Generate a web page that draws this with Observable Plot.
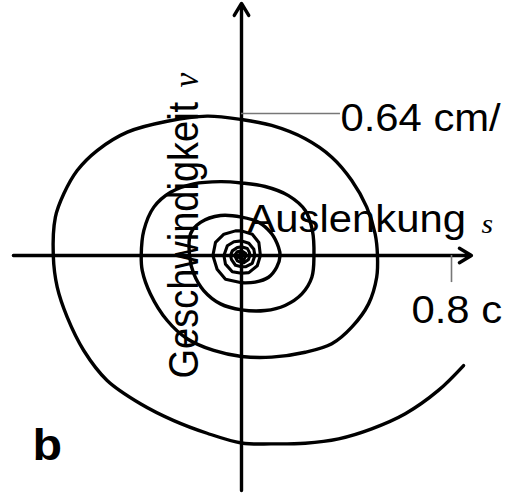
<!DOCTYPE html>
<html>
<head>
<meta charset="utf-8">
<script src="https://cdn.jsdelivr.net/npm/d3@7"></script>
<script src="https://cdn.jsdelivr.net/npm/@observablehq/plot@0.6"></script>
<style>
  html, body { margin: 0; padding: 0; background: #fff; overflow: hidden; }
  svg { display: block; overflow: hidden; }
</style>
</head>
<body>
<script>
// Phase-space trajectory of a damped oscillation: displacement s (cm) vs velocity v (cm/s)
const spiralS = [
  0.846, 0.750, 0.624, 0.496, 0.370, 0.243, 0.115, 0,
  -0.131, -0.258, -0.385, -0.512, -0.601, -0.664, -0.702, -0.717,
  -0.709, -0.677, -0.626, -0.550, -0.435, -0.283, -0.131, 0,
  0.115, 0.243, 0.344, 0.420, 0.477, 0.509, 0.518,
  0.515, 0.484, 0.420, 0.344, 0.243, 0.115, 0,
  -0.106, -0.207, -0.283, -0.347, -0.378, -0.382,
  -0.372, -0.334, -0.270, -0.182, -0.080, 0,
  0.090, 0.179, 0.243, 0.270, 0.276,
  0.268, 0.230, 0.166, 0.090, 0,
  -0.080, -0.144, -0.182, -0.198,
  -0.194, -0.156, -0.080, 0,
  0.065, 0.115, 0.141, 0.147,
  0.134, 0.103, 0.052, 0,
  -0.061, -0.093, -0.109, -0.099, -0.067, -0.023, 0,
  0.041, 0.066, 0.072, 0.060, 0.028, 0,
  -0.035, -0.061, -0.067, -0.054, -0.029, 0,
  0.028, 0.047, 0.051, 0.041, 0.015, 0,
  -0.023, -0.038, -0.042, -0.035, -0.016, 0,
  0.022, 0.030, 0.032, 0.026, 0.009, 0,
  -0.016, -0.026, -0.016, 0,
  0.015, 0.018, 0.009, 0,
  -0.010, -0.011, -0.004, 0.004, 0
];
const spiralV = [
  -0.496, -0.608, -0.713, -0.781, -0.826, -0.846, -0.849, -0.845,
  -0.801, -0.744, -0.668, -0.563, -0.428, -0.278, -0.143, 0,
  0.173, 0.278, 0.383, 0.473, 0.556, 0.605, 0.628, 0.613,
  0.586, 0.526, 0.443, 0.338, 0.218, 0.098, 0,
  -0.098, -0.218, -0.323, -0.398, -0.436, -0.458, -0.455,
  -0.428, -0.375, -0.293, -0.173, -0.068, 0,
  0.113, 0.218, 0.285, 0.323, 0.333, 0.327,
  0.311, 0.270, 0.203, 0.113, 0,
  -0.098, -0.173, -0.225, -0.248, -0.245,
  -0.218, -0.158, -0.082, 0,
  0.098, 0.149, 0.180, 0.173,
  0.150, 0.098, 0.037, 0,
  -0.053, -0.098, -0.120, -0.123,
  -0.107, -0.062, 0, 0.059, 0.096, 0.111, 0.111,
  0.096, 0.059, 0, -0.046, -0.077, -0.080,
  -0.073, -0.039, 0, 0.044, 0.062, 0.066,
  0.055, 0.028, 0, -0.035, -0.051, -0.051,
  -0.044, -0.019, 0, 0.021, 0.036, 0.039,
  0.032, 0.014, 0, -0.019, -0.032, -0.032,
  -0.024, 0, 0.017, 0.021,
  0.010, 0, -0.017, -0.018,
  -0.008, 0, 0.009, 0.005, 0
];
const smoothCount = 76;           // the outer turns are smooth, the innermost ones polygonal

const sTick = 0.8;                 // cm
const vTick = 0.64;                // cm/s
const sTickLabel = "0.8 c";
const vTickLabel = "0.64 cm/";
const sTitle = "Auslenkung";
const vTitle = "Geschwindigkeit";
const sSymbol = "s";
const vSymbol = "v";
const panelLabel = "b";

// Axis extents (s and v ranges covered by the arrows)
const sAxisRange = [-0.869, 0.876];
const vAxisRange = [-1.059, 1.136];

const points = spiralS.map((s, i) => ({s, v: spiralV[i]}));
const outer = points.slice(0, smoothCount);
const inner = points.slice(smoothCount - 1);

const axes = [
  {x1: sAxisRange[0], y1: 0, x2: sAxisRange[1], y2: 0},
  {x1: 0, y1: vAxisRange[0], x2: 0, y2: vAxisRange[1]}
];

const sans = "'Liberation Sans', Arial, Helvetica, sans-serif";
const serif = "'Liberation Serif', 'Times New Roman', serif";

const chart = Plot.plot({
  width: 508,
  height: 493,
  margin: 0,
  x: {domain: [-241 / 262.5, 267 / 262.5], axis: null},
  y: {domain: [-238 / 221.9, 255 / 221.9], axis: null},
  style: {background: "#fff"},
  marks: [
    // axes with arrowheads
    Plot.arrow(axes, {x1: "x1", y1: "y1", x2: "x2", y2: "y2",
      stroke: "#000", strokeWidth: 3.4, headLength: 6.2, headAngle: 62}),
    // reference ticks
    Plot.ruleY([vTick], {x1: 0, x2: 0.377, stroke: "#777", strokeWidth: 1.3}),
    Plot.ruleX([sTick], {y1: 0, y2: -0.122, stroke: "#777", strokeWidth: 1.6}),
    // trajectory
    Plot.line(outer, {x: "s", y: "v", stroke: "#000", strokeWidth: 3.4,
      curve: "catmull-rom", strokeLinejoin: "round", strokeLinecap: "round"}),
    Plot.line(inner, {x: "s", y: "v", stroke: "#000", strokeWidth: 3.1,
      curve: "linear", strokeLinejoin: "round", strokeLinecap: "round"}),
    // tick labels
    Plot.text([vTickLabel], {x: 0.377, y: vTick, text: d => d, textAnchor: "start",
      lineAnchor: "bottom", dy: 18, fontSize: 38, fontFamily: sans, fill: "#000"}),
    Plot.text([sTickLabel], {x: sTick, y: 0, text: d => d, textAnchor: "start",
      lineAnchor: "bottom", dx: -40, dy: 67.5, fontSize: 38, fontFamily: sans, fill: "#000"}),
    // axis titles
    Plot.text([sTitle], {x: 0, y: 0, text: d => d, textAnchor: "start",
      lineAnchor: "bottom", dx: 6, dy: -24, fontSize: 38, fontFamily: sans, fill: "#000"}),
    Plot.text([sSymbol], {x: 0, y: 0, text: d => d, textAnchor: "start",
      lineAnchor: "bottom", dx: 240, dy: -23, fontSize: 27, fontStyle: "italic",
      fontFamily: serif, fill: "#000"}),
    Plot.text([vTitle], {x: 0, y: 0, text: d => d, textAnchor: "start", rotate: -90,
      lineAnchor: "bottom", dx: -44, dy: 123, fontSize: 38, fontFamily: sans, fill: "#000"}),
    Plot.text([vSymbol], {x: 0, y: 0, text: d => d, textAnchor: "start", rotate: -90,
      lineAnchor: "bottom", dx: -44, dy: -168, fontSize: 33, fontStyle: "italic",
      fontFamily: serif, fill: "#000"}),
    // panel letter
    Plot.text([panelLabel], {frameAnchor: "top-left", text: d => d, textAnchor: "start",
      lineAnchor: "bottom", dx: 32, dy: 459, fontSize: 44, fontWeight: "bold",
      fontFamily: sans, fill: "#000"})
  ]
});

// the lettering is set slightly wide
for (const t of chart.querySelectorAll("text")) {
  const tr = t.getAttribute("transform");
  if (tr && /^translate\(/.test(tr)) {
    t.setAttribute("transform", tr.replace(/^(translate\([^)]*\))/, "$1 scale(1.1,1)"));
  } else {
    const x = +t.getAttribute("x") || 0, y = +t.getAttribute("y") || 0;
    t.setAttribute("transform", `translate(${x},${y}) scale(1.1,1) translate(${-x},${-y})`);
  }
}

document.body.appendChild(chart);
</script>
</body>
</html>
